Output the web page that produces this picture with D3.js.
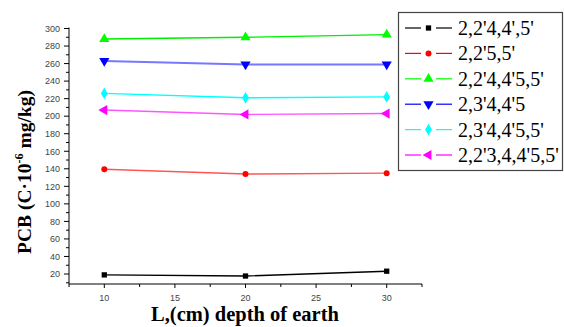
<!DOCTYPE html>
<html>
<head>
<meta charset="utf-8">
<script src="https://cdn.jsdelivr.net/npm/d3@7"></script>
<style>
  body { margin: 0; background: #fff; }
  svg { display: block; }
</style>
</head>
<body>
<div id="chart"></div>
<script>
// depth of earth (cm)
const depths = [10, 20, 30];

// PCB congeners and their concentrations
const seriesNames = ["2,2'4,4',5'", "2,2'5,5'", "2,2'4,4'5,5'", "2,3'4,4'5", "2,3'4,4'5,5'", "2,2'3,4,4'5,5'"];
const pcb1 = [19, 17.7, 23.2];
const pcb2 = [139.5, 134, 135];
const pcb3 = [288, 290, 293];
const pcb4 = [263, 259, 259];
const pcb5 = [226, 221, 222];
const pcb6 = [207, 202, 203];
const seriesValues = [pcb1, pcb2, pcb3, pcb4, pcb5, pcb6];

const xTicks = [10, 15, 20, 25, 30];
const yTicks = [20, 40, 60, 80, 100, 120, 140, 160, 180, 200, 220, 240, 260, 280, 300];

const colors = ["#000000", "#ff0000", "#00ff00", "#0000ff", "#00ffff", "#ff00ff"];
const lineColors = ["#000000", "#ff5555", "#00ee00", "#7777ff", "#00ffff", "#ff55ff"];

const w = 564, h = 327;
const x = d3.scaleLinear().domain([7.5, 32.5]).range([69, 422]);
const y = d3.scaleLinear().domain([8.6, 300]).range([284, 28.5]);

const svg = d3.select("#chart").append("svg")
  .attr("width", w)
  .attr("height", h)
  .attr("viewBox", [0, 0, w, h]);

// axes
const tickFont = "Arial, 'Liberation Sans', sans-serif";
const ax = svg.append("g").attr("transform", `translate(0,${y.range()[0]})`);
ax.append("line").attr("x1", x.range()[0]).attr("x2", x.range()[1]).attr("stroke", "#000");
d3.range(7.5, 32.6, 2.5).forEach((v) => {
  const major = xTicks.includes(v);
  ax.append("line").attr("x1", x(v)).attr("x2", x(v))
    .attr("y1", 0).attr("y2", major ? 4 : 3).attr("stroke", "#000");
});
ax.selectAll("text").data(xTicks).enter().append("text")
  .attr("x", (d) => x(d)).attr("y", 17)
  .attr("text-anchor", "middle")
  .attr("font-family", tickFont).attr("font-size", 9).attr("fill", "#444")
  .text((d) => d);

const ay = svg.append("g").attr("transform", `translate(${x.range()[0]},0)`);
ay.append("line").attr("y1", y.range()[0]).attr("y2", 27.5).attr("stroke", "#000");
d3.range(10, 301, 10).forEach((v) => {
  const major = yTicks.includes(v);
  ay.append("line").attr("y1", y(v)).attr("y2", y(v))
    .attr("x1", major ? -5 : -3).attr("x2", 0).attr("stroke", "#000");
});
ay.selectAll("text").data(yTicks).enter().append("text")
  .attr("x", -9).attr("y", (d) => y(d) + 3.3)
  .attr("text-anchor", "end")
  .attr("font-family", tickFont).attr("font-size", 9).attr("fill", "#444")
  .text((d) => d);

// axis titles
const titleFont = "'Liberation Serif', 'Times New Roman', serif";
svg.append("text")
  .attr("x", 245).attr("y", 321)
  .attr("text-anchor", "middle")
  .attr("font-family", titleFont).attr("font-weight", "bold").attr("font-size", 20.5)
  .text("L,(cm) depth of earth");

const yt = svg.append("text")
  .attr("transform", "translate(31,172) rotate(-90)")
  .attr("text-anchor", "middle")
  .attr("font-family", titleFont).attr("font-weight", "bold").attr("font-size", 19.5);
yt.append("tspan").text("PCB (C·10");
yt.append("tspan").attr("dy", -8).attr("font-size", 12).text("-6");
yt.append("tspan").attr("dy", 8).text(" mg/kg)");

// markers
const symbols = [d3.symbolSquare, d3.symbolCircle, d3.symbolTriangle, d3.symbolTriangle, d3.symbolDiamond, d3.symbolTriangle];
const rotations = [0, 0, 0, 180, 0, -90];
const sizes = [28, 28, 45, 45, 40, 45];
const marker = (i) => d3.symbol().type(symbols[i]).size(sizes[i])();

const lineGen = d3.line().x((d, k) => x(depths[k])).y((d) => y(d));

seriesValues.forEach((vals, i) => {
  const g = svg.append("g");
  g.append("path")
    .attr("d", lineGen(vals))
    .attr("fill", "none")
    .attr("stroke", lineColors[i])
    .attr("stroke-width", i === 3 ? 2 : 1.4);
  g.selectAll("path.m").data(vals).enter().append("path")
    .attr("class", "m")
    .attr("d", marker(i))
    .attr("transform", (d, k) => `translate(${x(depths[k])},${y(d)}) rotate(${rotations[i]})`)
    .attr("fill", colors[i]);
});

// legend
const lg = svg.append("g");
lg.append("rect")
  .attr("x", 398.5).attr("y", 12.5).attr("width", 164).attr("height", 158)
  .attr("fill", "#fff").attr("stroke", "#444").attr("stroke-width", 1.2);
seriesNames.forEach((name, i) => {
  const cy = 28 + i * 25.4;
  lg.append("line").attr("x1", 405).attr("x2", 421).attr("y1", cy).attr("y2", cy)
    .attr("stroke", colors[i]).attr("stroke-width", 1.2);
  lg.append("line").attr("x1", 436).attr("x2", 452).attr("y1", cy).attr("y2", cy)
    .attr("stroke", colors[i]).attr("stroke-width", 1.2);
  lg.append("path").attr("d", marker(i))
    .attr("transform", `translate(428.5,${cy}) rotate(${rotations[i]})`)
    .attr("fill", colors[i]);
  lg.append("text")
    .attr("x", 458).attr("y", cy + 7)
    .attr("font-family", titleFont).attr("font-size", 20)
    .text(name);
});
</script>
</body>
</html>
